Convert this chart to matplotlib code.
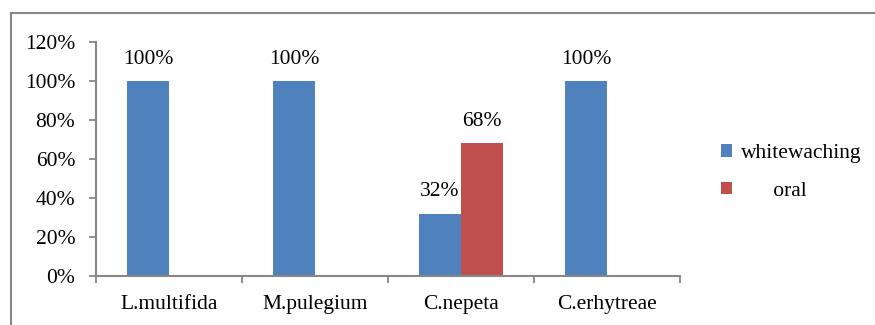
import matplotlib
matplotlib.use("Agg")
import matplotlib.pyplot as plt
import numpy as np
from matplotlib.patches import Patch
from matplotlib.lines import Line2D

plants = ["L.multifida", "M.pulegium", "C.nepeta", "C.erhytreae"]
whitewaching = [100, 100, 32, 100]
oral = [0, 0, 68, 0]
series_names = ["whitewaching", "      oral"]
y_ticks = [0, 20, 40, 60, 80, 100, 120]

blue = "#4F81BD"
red = "#C0504D"
gray = "#878787"

plt.rcParams["font.family"] = ["Liberation Serif", "DejaVu Serif"]
fs = 15.5

W, H = 875, 325
fig = plt.figure(figsize=(W / 100, H / 100), dpi=100)

# outer frame (top and left edges)
fig.add_artist(Line2D([10.5 / W, 10.5 / W], [0, 1 - 13 / H], color=gray, lw=1.5, transform=fig.transFigure))
fig.add_artist(Line2D([10.5 / W, 1], [1 - 13 / H, 1 - 13 / H], color=gray, lw=1.5, transform=fig.transFigure))

ax = fig.add_axes([96 / W, (H - 276) / H, (680 - 96) / W, (276 - 42) / H])

x = np.arange(len(plants))
bw = 0.288
b1 = ax.bar(x - bw / 2, whitewaching, bw, color=blue, label=series_names[0])
b2 = ax.bar(x + bw / 2, oral, bw, color=red, label=series_names[1])

for bars, vals in ((b1, whitewaching), (b2, oral)):
    for rect, v in zip(bars, vals):
        if v > 0:
            ax.annotate(f"{v}%", (rect.get_x() + rect.get_width() / 2, v),
                        xytext=(0, 9), textcoords="offset points",
                        ha="center", va="bottom", fontsize=fs)

ax.set_xlim(-0.5, len(plants) - 0.5)
ax.set_ylim(0, 120)
ax.set_yticks(y_ticks)
ax.set_yticklabels([f"{t}%" for t in y_ticks], fontsize=fs)

ax.set_xticks(np.arange(-0.5, len(plants), 1.0))
ax.set_xticklabels([])
ax.set_xticks(x, minor=True)
ax.set_xticklabels(plants, minor=True, fontsize=fs)
ax.tick_params(axis="x", which="minor", length=0, pad=14)
ax.tick_params(axis="x", which="major", length=5, width=1.3, color=gray, direction="out")
ax.tick_params(axis="y", length=5, width=1.3, color=gray, direction="out", pad=10)

for s in ["top", "right"]:
    ax.spines[s].set_visible(False)
for s in ["left", "bottom"]:
    ax.spines[s].set_color(gray)
    ax.spines[s].set_linewidth(1.5)

handles = [Patch(facecolor=blue), Patch(facecolor=red)]
fig.legend(handles, series_names, loc="center left",
           bbox_to_anchor=(721 / W, 1 - 172.5 / H), frameon=False, fontsize=fs,
           handlelength=0.5, handleheight=0.5, handletextpad=0.45,
           labelspacing=0.88, borderpad=0, borderaxespad=0)

fig.savefig("out.png", dpi=100, facecolor="white")
